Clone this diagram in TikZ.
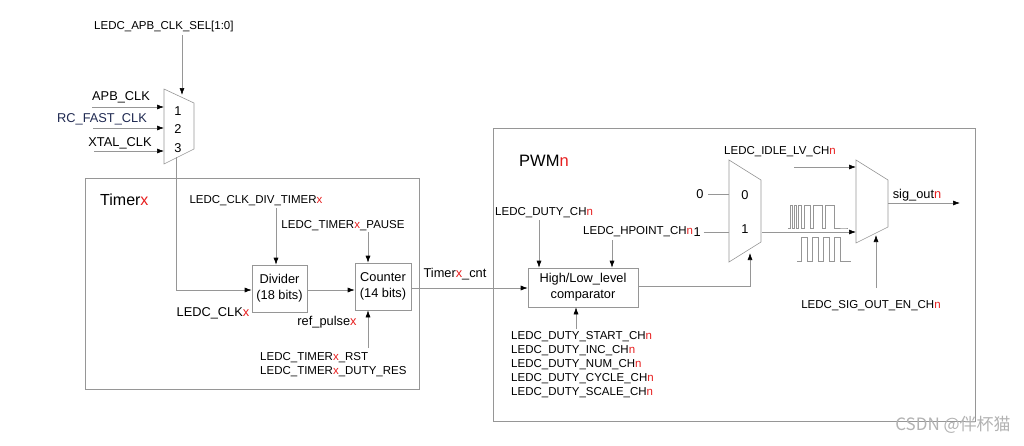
\documentclass[tikz,border=0pt]{standalone}
\usepackage{fontspec}
\setmainfont{Liberation Sans}
\newfontfamily\cjk{Noto Sans CJK SC}
\usetikzlibrary{arrows.meta}
\definecolor{ln}{RGB}{150,150,150}
\definecolor{rd}{RGB}{230,30,30}
\definecolor{bl}{RGB}{30,40,80}
\newcommand{\rx}[1]{\textcolor{rd}{#1}}
\tikzset{
  w/.style={draw=ln,line width=0.6pt},
  a/.style={w,-{Latex[length=7pt,width=5pt,black]}},
  box/.style={draw=ln,line width=0.6pt,align=center,inner sep=0pt},
  t/.style={font=\fontsize{11.5}{14}\selectfont,inner sep=0pt},
  tb/.style={font=\fontsize{12.8}{16}\selectfont,inner sep=0pt},
  tt/.style={font=\fontsize{16}{18}\selectfont,inner sep=0pt},
}
\begin{document}
\begin{tikzpicture}[x=1pt,y=-1pt]
\useasboundingbox (0,0) rectangle (1024,445);
% frames
\draw[w] (85,178) rectangle (419,389);
\draw[w] (493,128) rectangle (975,421);
% mux1
\draw[w] (164,89) -- (194,103) -- (194,149) -- (164,164) -- cycle;
\node[tb] (m1a) at (178,111) {1};
\node[tb] (m1b) at (178,129) {2};
\node[tb] (m1c) at (178,148) {3};
\node[t,anchor=west] (sel) at (94,27) {LEDC\_APB\_CLK\_SEL[1:0]};
\coordinate (selin) at (182,95);
\draw[a] (182,35) -- (selin);
\node[tb] (apb) at (121,97) {APB\_CLK};
\node[tb,text=bl] (rc) at (102,119) {RC\_FAST\_CLK};
\node[tb] (xt) at (120,143) {XTAL\_CLK};
\coordinate (i1) at (164,107); \coordinate (i2) at (164,128); \coordinate (i3) at (164,151);
\draw[a] (92,107) -- (i1);
\draw[a] (93,128) -- (i2);
\draw[a] (94,151) -- (i3);
% timer
\node[tt,anchor=west] (tim) at (100,200) {Timer\rx{x}};
\node[box,tb,minimum width=55pt,minimum height=47pt] (div) at (279.5,288.5) {Divider\\(18 bits)};
\node[box,tb,minimum width=56pt,minimum height=47pt] (cnt) at (383,286.5) {Counter\\(14 bits)};
\coordinate (mo) at (176,157);
\draw[a] (mo) |- (div.west |- 0,290);
\draw[a] (div.east |- 0,290) -- (cnt.west |- 0,290);
\node[t] (cdl) at (256,201) {LEDC\_CLK\_DIV\_TIMER\rx{x}};
\draw[a] (276,208) -- (div.north -| 276,0);
\node[t] (pl) at (343,226) {LEDC\_TIMER\rx{x}\_PAUSE};
\draw[a] (368,232) -- (cnt.north -| 368,0);
\node[tb] (clkx) at (213,313) {LEDC\_CLK\rx{x}};
\node[tb] (rp) at (327,322) {ref\_pulse\rx{x}};
\node[t,anchor=west,align=left] (rst) at (260,365) {LEDC\_TIMER\rx{x}\_RST\\LEDC\_TIMER\rx{x}\_DUTY\_RES};
\draw[a] (368,348) -- (cnt.south -| 368,0);
% comparator
\node[box,tb,minimum width=110pt,minimum height=39pt] (cmp) at (583,287.5) {High/Low\_level\\comparator};
\draw[a] (cnt.east |- 0,288) -- (cmp.west |- 0,288);
\node[tb] (tc) at (455,274) {Timer\rx{x}\_cnt};
\node[tt,anchor=west,font=\fontsize{16.5}{18}\selectfont] (pwm) at (519,161) {PWM\rx{n}};
\node[t,anchor=west] (dch) at (495,213) {LEDC\_DUTY\_CH\rx{n}};
\draw[a] (539,220) -- (cmp.north -| 539,0);
\node[t,anchor=west] (hp) at (583,232) {LEDC\_HPOINT\_CH\rx{n}};
\node[tb,anchor=west] (one) at (hp.east) {1};
\draw[a] (612,240) -- (cmp.north -| 612,0);
\node[t,anchor=west,align=left] (dlist) at (511,365) {LEDC\_DUTY\_START\_CH\rx{n}\\LEDC\_DUTY\_INC\_CH\rx{n}\\LEDC\_DUTY\_NUM\_CH\rx{n}\\LEDC\_DUTY\_CYCLE\_CH\rx{n}\\LEDC\_DUTY\_SCALE\_CH\rx{n}};
\draw[a] (576,329) -- (cmp.south -| 576,0);
% mux2
\draw[w] (729,160) -- (761,180) -- (761,242) -- (729,262) -- cycle;
\node[tb] (m2a) at (745,195) {0};
\node[tb] (m2b) at (745,229) {1};
\node[tb] (zero) at (700,194) {0};
\draw[w] (708,194) -- (729,194);
\draw[w] (one.east) ++(3,0) -- (729,232);
\coordinate (m2s) at (750,253);
\draw[a] (cmp.east |- 0,286) -| (m2s);
% mux3
\draw[w] (856,160) -- (888,180) -- (888,227) -- (856,243) -- cycle;
\coordinate (m3a) at (856,167); \coordinate (m3b) at (856,232); \coordinate (m3s) at (876,235);
\draw[a] (762,232) -- (m3b);
\node[t] (idle) at (780,152) {LEDC\_IDLE\_LV\_CH\rx{n}};
\draw[a] (794,167) -- (m3a);
\node[t] (sen) at (871,306) {LEDC\_SIG\_OUT\_EN\_CH\rx{n}};
\draw[a] (876,288) -- (m3s);
\node[tb] (so) at (917,195) {sig\_out\rx{n}};
\coordinate (out) at (960,203);
\draw[a] (888,203) -- (out);
% waveforms
\draw[w] (788,228) -- (790,228) |- (792,205) |- (794,228) |- (796,205) |- (798,228) |- (801,205) |- (804,228) |- (810,205) |- (813,228) |- (822,205) |- (825,228) |- (834,205) |- (846,228) -- (848,228);
\draw[w] (797,261) -- (801,261) |- (807,237) |- (812,261) |- (818,237) |- (823,261) |- (829,237) |- (834,261) |- (840,237) |- (851,261);
% watermark
\node[font=\cjk\fontsize{17}{20}\selectfont,text=gray!60] (wm) at (953,425) {CSDN @伴杯猫};
\end{tikzpicture}
\end{document}
